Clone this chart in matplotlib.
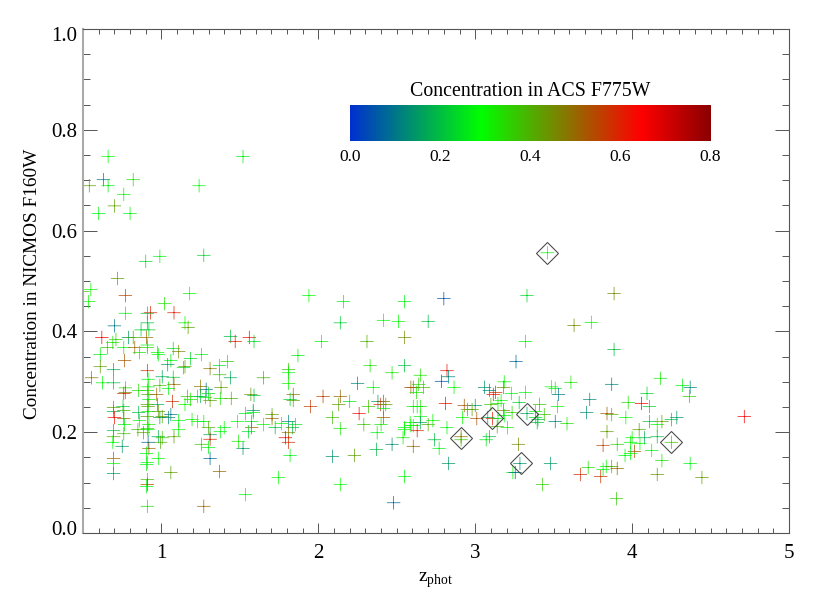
import numpy as np
import matplotlib
matplotlib.use("Agg")
import matplotlib.pyplot as plt
from matplotlib.colors import LinearSegmentedColormap
from matplotlib.ticker import MultipleLocator
from matplotlib.transforms import ScaledTranslation

plt.rcParams['font.family'] = ['Liberation Serif', 'DejaVu Serif']
plt.rcParams['mathtext.fontset'] = 'custom'
plt.rcParams['mathtext.rm'] = 'Liberation Serif'

# (z_phot, NICMOS concentration, ACS concentration)
points = [
(.66,.747,.29),(1.52,.747,.27),(.63,.701,.1),(.66,.689,.27),(.54,.689,.42),(.82,.701,.33),(1.24,.689,.29),(.76,.672,.31),
(.70,.649,.42),(.60,.634,.28),(.80,.634,.27),(.90,.539,.24),(.99,.549,.27),(1.27,.551,.23),(.72,.505,.43),(.50,.479,.36),
(.55,.483,.31),(.77,.471,.55),(1.18,.475,.3),(1.94,.471,.29),(.535,.459,.3),(1.02,.455,.33),(.77,.436,.27),(.93,.437,.6),
(.91,.436,.2),(1.08,.437,.6),(1.15,.417,.31),(1.17,.408,.42),(.70,.411,.1),(.91,.417,.2),(.87,.403,.22),(.92,.403,.23),
(1.44,.39,.2),(1.47,.38,.6),(1.56,.388,.62),(1.59,.38,.24),(.62,.388,.63),(.69,.378,.33),(.71,.384,.35),(.79,.388,.15),
(.82,.388,.4),(.76,.368,.28),(.655,.368,.37),(.83,.368,.5),(.905,.388,.5),(.91,.368,.34),(.91,.373,.3),(.61,.354,.27),
(.86,.358,.33),(.975,.358,.3),(.98,.354,.29),(1.075,.366,.25),(1.11,.36,.45),(1.255,.354,.27),(1.185,.346,.24),(1.06,.342,.28),
(.765,.342,.52),(1.04,.334,.15),(1.15,.33,.42),(1.14,.328,.24),(.61,.33,.42),(.695,.324,.17),(.91,.322,.58),(1.31,.326,.48),
(1.37,.332,.25),(1.42,.34,.35),(1.37,.314,.38),(1.44,.308,.17),(1.65,.308,.4),(1.81,.324,.38),(1.81,.318,.28),(1.81,.297,.31),
(1.87,.352,.27),(2.02,.38,.28),(2.14,.417,.22),(2.16,.459,.27),(2.31,.38,.4),(2.415,.422,.29),(2.51,.42,.3),(2.55,.459,.27),
(2.55,.388,.45),(2.33,.332,.33),(2.55,.332,.2),(2.47,.318,.32),(2.25,.297,.12),(2.35,.289,.28),(2.59,.289,.5),
(.555,.308,.48),(.625,.298,.28),(.695,.298,.2),(.77,.288,.34),(.855,.283,.33),(.77,.279,.45),(.76,.277,.58),(.915,.29,.3),
(.91,.283,.33),(.915,.275,.4),(.97,.275,.5),(.975,.255,.17),(.92,.265,.28),(.91,.255,.4),(1.07,.261,.58),(1.045,.287,.28),
(1.075,.309,.22),(1.005,.31,.17),(.915,.305,.29),(.99,.293,.38),(1.08,.295,.5),(1.165,.271,.38),(1.23,.271,.27),
(1.15,.255,.3),(1.185,.265,.33),(1.25,.291,.48),(1.285,.285,.1),(1.30,.277,.25),(1.25,.271,.2),(1.28,.269,.27),(1.31,.263,.42),
(1.38,.289,.42),(1.375,.267,.33),(1.445,.267,.4),(1.57,.275,.43),(1.59,.273,.2),(1.84,.275,.48),(1.82,.265,.23),(1.84,.263,.42),
(1.95,.251,.56),(2.03,.271,.55),(2.14,.271,.5),(2.13,.255,.42),(2.20,.261,.25),(2.38,.261,.15),(2.415,.261,.52),(2.395,.255,.58),
(2.43,.255,.42),(2.32,.251,.38),(2.415,.247,.27),(2.26,.237,.62),(2.09,.229,.38),(2.415,.229,.52),(2.29,.215,.37),(2.40,.215,.33),
(2.14,.207,.32),(2.375,.199,.27),(2.54,.189,.32),(2.55,.209,.27),(2.585,.219,.3),(2.59,.213,.29),(2.47,.176,.13),(2.37,.166,.19),
(2.23,.154,.42),(2.09,.152,.14),(2.55,.112,.28),(2.14,.096,.3),(2.48,.06,.08),(2.605,.172,.5),(2.605,.251,.33),
(1.195,.225,.31),(1.23,.221,.3),(1.27,.221,.28),(1.30,.209,.4),(1.31,.195,.17),(1.31,.186,.6),(1.255,.176,.37),(1.30,.17,.27),
(1.31,.148,.08),(1.37,.122,.5),(1.27,.053,.5),(1.535,.076,.28),(1.745,.11,.3),(1.375,.201,.28),(1.40,.209,.28),(1.485,.221,.29),
(1.49,.182,.32),(1.52,.168,.15),(1.535,.237,.26),(1.585,.243,.13),(1.585,.239,.27),(1.575,.221,.25),(1.575,.209,.5),(1.555,.201,.24),
(1.65,.215,.29),(1.705,.235,.4),(1.705,.227,.5),(1.725,.209,.2),(1.765,.217,.3),(1.81,.221,.12),(1.855,.215,.25),(1.835,.209,.2),
(1.81,.199,.48),(1.79,.189,.66),(1.81,.18,.58),(1.82,.154,.27),
(.695,.249,.42),(.755,.251,.22),(.695,.241,.18),(.76,.243,.4),(.915,.251,.42),(.915,.241,.3),(.91,.231,.42),(.70,.229,.62),
(.76,.227,.5),(.765,.215,.27),(.86,.223,.3),(.855,.239,.2),(.99,.229,.16),(.98,.241,.42),(1.005,.231,.42),(1.06,.235,.1),
(1.045,.229,.13),(1.11,.223,.28),(1.11,.205,.3),(.92,.215,.33),(.91,.207,.35),(.85,.205,.38),(.915,.205,.3),(.885,.199,.42),
(.695,.203,.2),(.695,.191,.42),(.76,.197,.38),(.98,.191,.18),(1.005,.189,.36),(1.08,.191,.42),(.995,.18,.4),(.69,.18,.29),
(.75,.172,.15),(.915,.18,.08),(.92,.168,.5),(.905,.158,.28),(.98,.148,.29),(.91,.14,.29),(.905,.136,.27),(.695,.148,.5),
(.695,.138,.3),(.695,.118,.15),(1.06,.12,.42),(.91,.106,.38),(.91,.096,.55),(.905,.092,.27),(.91,.053,.33),
(2.65,.313,.33),(2.64,.295,.35),(2.605,.289,.52),(2.67,.289,.38),(2.625,.279,.33),(2.82,.322,.62),(2.83,.31,.12),(2.785,.301,.05),
(2.865,.289,.29),(2.63,.251,.28),(2.65,.251,.32),(2.81,.257,.62),(2.93,.253,.53),(2.92,.229,.3),(2.82,.209,.27),(2.65,.231,.3),
(2.65,.219,.17),(2.605,.213,.3),(2.70,.215,.4),(2.73,.223,.3),(2.63,.203,.6),(2.55,.205,.3),(2.74,.185,.2),(2.77,.168,.27),
(2.83,.138,.15),(2.91,.191,.5),(2.91,.185,.36),(2.95,.245,.42),
(3.26,.34,.08),(3.185,.3,.3),(3.61,.299,.33),(3.485,.29,.29),(3.51,.287,.27),(3.53,.275,.1),(3.06,.289,.14),(3.09,.283,.12),
(3.13,.279,.58),(3.18,.289,.45),(3.115,.275,.62),(3.23,.277,.27),(3.32,.279,.28),(3.165,.263,.3),(3.28,.259,.22),(3.41,.255,.37),
(3.525,.251,.29),(3.73,.265,.13),(3.71,.239,.13),(3.10,.255,.38),(3.145,.257,.32),(3.0,.253,.15),(2.98,.245,.42),(3.01,.227,.53),
(3.18,.243,.48),(3.235,.239,.35),(3.385,.241,.3),(3.44,.235,.37),(3.33,.237,.17),(3.385,.229,.25),(3.40,.225,.2),(3.395,.219,.2),
(3.51,.221,.12),(3.585,.217,.33),(3.205,.209,.3),(3.14,.211,.4),(3.11,.227,.62),(3.08,.229,.17),(3.145,.227,.27),(3.185,.233,.28),
(3.09,.191,.19),(3.07,.185,.25),(3.275,.176,.45),(3.285,.138,.14),(3.48,.138,.15),(3.24,.12,.3),(3.255,.12,.08),(3.43,.096,.36),
(3.67,.116,.58),(3.72,.13,.34),
(3.63,.412,.45),(3.74,.418,.3),(3.885,.475,.45),(3.885,.364,.2),(3.87,.295,.12),(3.33,.471,.24),(3.32,.38,.28),(2.80,.465,.05),
(2.70,.42,.2),(3.84,.237,.52),(3.87,.235,.4),(3.96,.229,.3),(3.975,.259,.33),(4.06,.257,.64),(4.095,.277,.23),(4.11,.251,.22),
(4.18,.307,.31),(4.32,.293,.27),(4.37,.289,.12),(4.365,.271,.36),(4.11,.221,.2),(4.16,.215,.3),(4.19,.221,.42),(4.25,.225,.2),
(4.285,.229,.15),(4.715,.231,.66),(4.045,.205,.42),(3.84,.201,.43),(4.0,.189,.3),(4.08,.189,.18),(4.16,.191,.2),(3.99,.18,.3),
(4.05,.178,.29),(3.905,.176,.35),(3.815,.174,.55),(4.125,.164,.27),(4.015,.162,.53),(3.955,.154,.28),(3.99,.158,.29),(4.19,.144,.33),
(4.25,.18,.37),(4.37,.138,.27),(3.835,.132,.3),(3.815,.126,.28),(3.87,.132,.42),(3.905,.128,.5),(3.80,.112,.57),(4.16,.116,.43),
(4.445,.11,.43),(3.90,.068,.36),(3.46,.556,.3),
]
z_phot = [p[0] for p in points]
conc_nicmos = [p[1] for p in points]
conc_acs = [p[2] for p in points]

diamond_z = [2.91, 3.11, 3.33, 3.29, 3.46, 4.25]
diamond_c = [.189, .229, .237, .138, .556, .18]

y_ticks = [0.0, 0.2, 0.4, 0.6, 0.8, 1.0]
x_ticks = [1, 2, 3, 4, 5]
cbar_ticks = [0.0, 0.2, 0.4, 0.6, 0.8]

W, H = 830, 593
cmap = LinearSegmentedColormap.from_list('idl', [
    (0.0, '#0030d0'), (0.29/0.8, '#00ff00'), (0.645/0.8, '#ff0000'), (1.0, '#8b0000')])

fig = plt.figure(figsize=(W/100, H/100), dpi=100)
L, R, T, B = 83, 789, 29, 533
ax = fig.add_axes([L/W, 1-B/H, (R-L)/W, (B-T)/H])
ax.set_xlim(0.5, 5)
ax.set_ylim(0, 1)
sc = ax.scatter(z_phot, conc_nicmos, c=conc_acs, cmap=cmap, vmin=0, vmax=0.8,
                marker='+', s=92, linewidths=0.5, zorder=2)
sc.set_snap(False)
ax.plot(diamond_z, diamond_c, ls='none', marker='D', ms=10.7, mfc='none',
        mec='#444444', mew=0.75, zorder=3)

ax.set_xticks(x_ticks)
ax.set_yticks(y_ticks)
ax.set_xticklabels([str(v) for v in x_ticks])
ax.set_yticklabels([f'{v:.1f}' for v in y_ticks])
ax.xaxis.set_minor_locator(MultipleLocator(0.1))
ax.yaxis.set_minor_locator(MultipleLocator(0.05))
ax.tick_params(axis='x', which='major', direction='in', top=True, length=7.2, width=0.7, color='#555555', pad=8, labelsize=15)
ax.tick_params(axis='x', which='minor', direction='in', top=True, length=3.6, width=0.7, color='#555555')
ax.tick_params(axis='y', which='major', direction='in', right=True, length=10, width=0.7, color='#555555', pad=4, labelsize=15)
ax.tick_params(axis='y', which='minor', direction='in', right=True, length=5, width=0.7, color='#555555')
for s in ax.spines.values():
    s.set_linewidth(0.8)
    s.set_color('#555555')
ax.spines['left'].set_linewidth(1.5)
ax.spines['left'].set_color('#aaaaaa')

labs = ax.get_yticklabels()
labs[0].set_transform(labs[0].get_transform() + ScaledTranslation(0, 5/100, fig.dpi_scale_trans))
labs[-1].set_transform(labs[-1].get_transform() + ScaledTranslation(0, -5/100, fig.dpi_scale_trans))

fig.text(41/W, 1-284/H, 'Concentration in NICMOS F160W', rotation=90, ha='right', va='center', fontsize=13.9)
fig.text(436/W, 1-580/H, r'$\mathrm{z}_{\mathrm{phot}}$', ha='center', va='center', fontsize=14)

cax = fig.add_axes([350/W, 1-141/H, 360/W, 36/H])
cax.imshow(np.linspace(0, 0.8, 256)[None, :], aspect='auto', cmap=cmap, vmin=0, vmax=0.8,
           extent=[0, 0.8, 0, 1])
cax.set_yticks([])
cax.set_xticks(cbar_ticks)
cax.set_xticklabels([f'{v:.1f}' for v in cbar_ticks])
cax.tick_params(axis='x', length=0, pad=5.5, labelsize=12.5)
for s in cax.spines.values():
    s.set_visible(False)
fig.text(530/W, 1-91/H, 'Concentration in ACS F775W', ha='center', va='center', fontsize=14.3)

fig.savefig('out.png', dpi=100)
